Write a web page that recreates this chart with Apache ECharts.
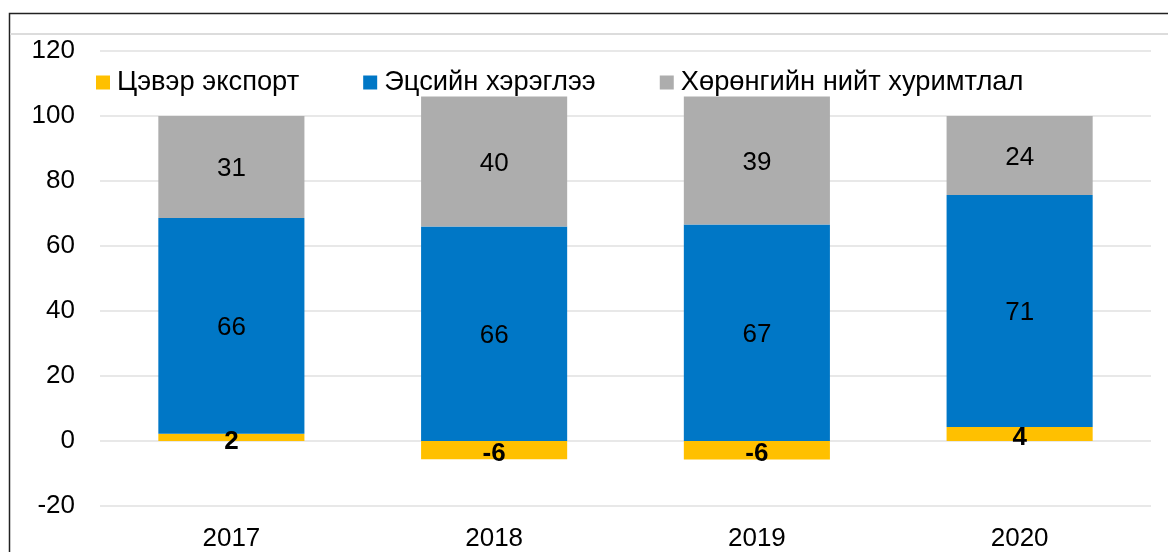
<!DOCTYPE html>
<html>
<head>
<meta charset="utf-8">
<script src="https://cdn.jsdelivr.net/npm/echarts@6/dist/echarts.min.js"></script>
<style>
    html, body { margin: 0; padding: 0; background: #fff; }
    #chart { width: 1168px; height: 552px; }
</style>
</head>
<body>
<div id="chart"></div>
<script>
(function () {
    var years = ['2017', '2018', '2019', '2020'];
    var netExport = [2.2, -5.6, -5.7, 4.3];
    var consumption = [66.4, 66.0, 66.6, 71.4];
    var capital = [31.4, 40.0, 39.4, 24.3];
    var seriesNames = ['Цэвэр экспорт', 'Эцсийн хэрэглээ', 'Хөрөнгийн нийт хуримтлал'];
    var colors = ['#FFC000', '#0077C6', '#ADADAD'];

    var font = 'Liberation Sans, Arial, sans-serif';

    var makeSeries = function (name, data, color, bold) {
        return {
            name: name,
            type: 'bar',
            stack: 'total',
            barWidth: '55.6%',
            itemStyle: { color: color },
            label: {
                show: true,
                position: 'inside',
                offset: [0, bold ? 4 : 2],
                color: '#000',
                fontSize: 26,
                fontFamily: font,
                fontWeight: bold ? 'bold' : 'normal',
                formatter: function (p) {
                    return Math.round(p.value);
                }
            },
            data: data
        };
    };

    var chart = echarts.init(document.getElementById('chart'));
    chart.setOption({
        animation: false,
        color: colors,
        grid: {
            left: 100,
            right: 17,
            top: 51,
            bottom: 45,
            containLabel: false
        },
        legend: {
            left: 96,
            top: 69,
            padding: 0,
            icon: 'rect',
            itemWidth: 14,
            itemHeight: 14,
            itemGap: 64,
            textStyle: {
                fontSize: 27.3,
                fontFamily: font,
                color: '#000',
                padding: [0, 0, 0, 2]
            },
            data: seriesNames
        },
        xAxis: {
            type: 'category',
            data: years,
            axisLine: { show: false },
            axisTick: { show: false },
            axisLabel: {
                fontSize: 26,
                fontFamily: font,
                color: '#000',
                margin: 20
            }
        },
        yAxis: {
            type: 'value',
            min: -20,
            max: 120,
            interval: 20,
            axisLine: { show: false },
            axisTick: { show: false },
            axisLabel: {
                fontSize: 26,
                fontFamily: font,
                color: '#000',
                margin: 25
            },
            splitLine: { lineStyle: { color: '#E0E0E0', width: 1.5 } }
        },
        graphic: [
            {
                type: 'polyline',
                shape: { points: [[9.5, 552], [9.5, 13.5], [1168, 13.5]] },
                style: { stroke: '#222', lineWidth: 1.5, fill: null }
            },
            {
                type: 'line',
                shape: { x1: 10, y1: 34, x2: 1168, y2: 34 },
                style: { stroke: '#DCDCDC', lineWidth: 2 }
            }
        ],
        series: [
            makeSeries(seriesNames[0], netExport, colors[0], true),
            makeSeries(seriesNames[1], consumption, colors[1], false),
            makeSeries(seriesNames[2], capital, colors[2], false)
        ]
    });

    window.addEventListener('resize', function () {
        chart.resize();
    });
})();
</script>
</body>
</html>
